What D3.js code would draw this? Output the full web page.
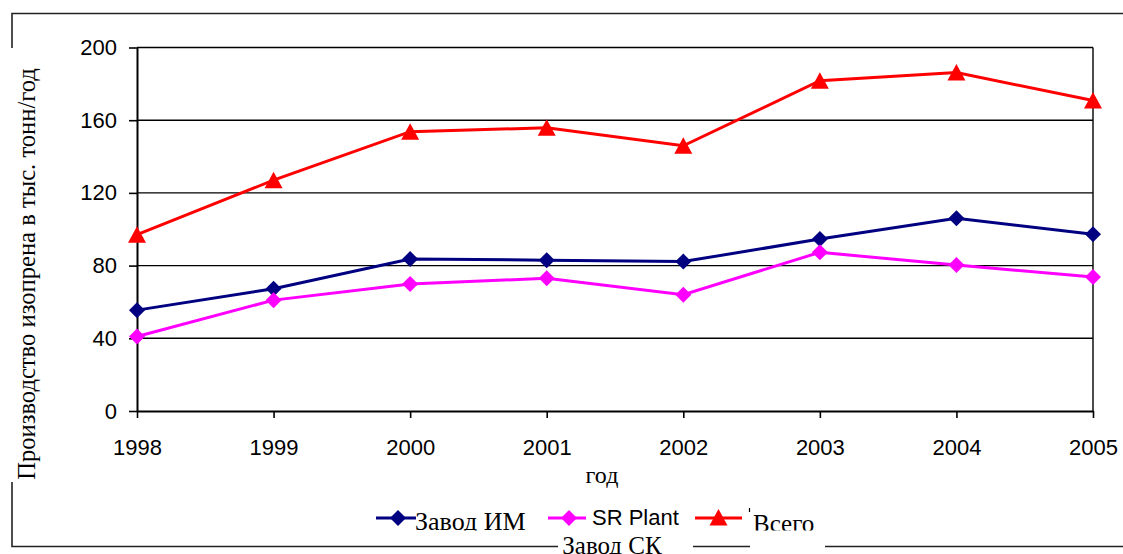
<!DOCTYPE html>
<html>
<head>
<meta charset="utf-8">
<script src="https://cdn.jsdelivr.net/npm/d3@7/dist/d3.min.js"></script>
<style>
  html, body { margin: 0; padding: 0; background: #fff; }
  svg { display: block; }
</style>
</head>
<body>
<svg id="chart" width="1123" height="554"></svg>
<script>
// Isoprene output, thousand tonnes per year
const years = [1998, 1999, 2000, 2001, 2002, 2003, 2004, 2005];
const plantIM = [55.5, 67.3, 83.6, 83.0, 82.2, 94.6, 106.0, 97.2];
const plantSR = [41.0, 61.0, 69.9, 73.0, 64.0, 87.3, 80.3, 73.7];
const total   = [97.0, 127.0, 153.7, 155.8, 145.9, 181.7, 186.2, 170.8];
const yTicks  = [0, 40, 80, 120, 160, 200];

const seriesNames = ["Завод ИМ", "SR Plant", "Всего"];

const svg = d3.select("#chart");
const margin = { left: 137, right: 1093, top: 47.5, bottom: 411 };

const x = d3.scaleLinear().domain([years[0], years[years.length - 1]]).range([margin.left, margin.right]);
const y = d3.scaleLinear().domain([0, 200]).range([margin.bottom, margin.top]);

// outer frame (broken where titles sit on it)
const frame = svg.append("g").attr("stroke", "#222").attr("stroke-width", 1.6).attr("fill", "none");
frame.append("path").attr("d", "M12,48 V13.5 H1123");
frame.append("path").attr("d", "M12,482 V546.5 H558");
frame.append("path").attr("d", "M693,546.5 H750");
frame.append("path").attr("d", "M825,546.5 H1123");

// horizontal gridlines
svg.append("g")
  .selectAll("line")
  .data(yTicks.filter(d => d > 0))
  .join("line")
  .attr("x1", margin.left).attr("x2", margin.right)
  .attr("y1", d => y(d)).attr("y2", d => y(d))
  .attr("stroke", "#000").attr("stroke-width", 1.4);

// right border of the plot area
svg.append("line")
  .attr("x1", margin.right).attr("x2", margin.right)
  .attr("y1", margin.top).attr("y2", margin.bottom)
  .attr("stroke", "#000").attr("stroke-width", 1.4);

// axes
const xAxis = svg.append("g")
  .attr("transform", `translate(0,${margin.bottom})`)
  .call(d3.axisBottom(x).tickValues(years).tickFormat(d3.format("d")).tickSize(7).tickSizeOuter(0).tickPadding(21));
const yAxis = svg.append("g")
  .attr("transform", `translate(${margin.left},0)`)
  .call(d3.axisLeft(y).tickValues(yTicks).tickSize(8).tickSizeOuter(0).tickPadding(12));

[xAxis, yAxis].forEach(g => {
  g.selectAll("path.domain").attr("stroke", "#000").attr("stroke-width", 2);
  g.selectAll(".tick line").attr("stroke", "#000").attr("stroke-width", 1.6);
  g.selectAll("text")
    .attr("fill", "#000")
    .style("font-family", "'Liberation Sans', Arial, sans-serif")
    .style("font-size", "22px");
});
xAxis.selectAll("text").attr("dy", "0.71em");

// series
const series = [
  { name: seriesNames[0], values: plantIM, color: "#000080", shape: "diamond" },
  { name: seriesNames[1], values: plantSR, color: "#FF00FF", shape: "diamond" },
  { name: seriesNames[2], values: total,   color: "#FF0000", shape: "triangle" }
];

const markerPath = shape => shape === "diamond"
  ? "M0,-8 L8,0 L0,8 L-8,0 Z"
  : "M0,-9 L9,7.5 L-9,7.5 Z";

const line = d3.line().x((d, i) => x(years[i])).y(d => y(d));

series.forEach(s => {
  svg.append("path")
    .datum(s.values)
    .attr("d", line)
    .attr("fill", "none")
    .attr("stroke", s.color)
    .attr("stroke-width", 3);
  svg.append("g")
    .selectAll("path")
    .data(s.values)
    .join("path")
    .attr("transform", (d, i) => `translate(${x(years[i])},${y(d) + (s.shape === "triangle" ? 0.5 : 0)})`)
    .attr("d", markerPath(s.shape))
    .attr("fill", s.color);
});

// axis titles
svg.append("text")
  .attr("transform", "translate(35,274) rotate(-90)")
  .attr("text-anchor", "middle")
  .style("font-family", "'Liberation Serif', 'Times New Roman', serif")
  .style("font-size", "24.6px")
  .attr("fill", "#000")
  .text("Производство изопрена в тыс. тонн/год");

svg.append("text")
  .attr("x", 602).attr("y", 483)
  .attr("text-anchor", "middle")
  .style("font-family", "'Liberation Serif', 'Times New Roman', serif")
  .style("font-size", "24px")
  .attr("fill", "#000")
  .text("год");

// legend (its text box cuts the lower part of the serif labels)
const clip = svg.append("defs").append("clipPath").attr("id", "legendClip");
clip.append("rect").attr("x", 0).attr("y", 490).attr("width", 1123).attr("height", 40.5);

const legend = svg.append("g");
const legendItems = [
  { s: series[0], x1: 376, x2: 416, font: "'Liberation Serif', 'Times New Roman', serif", size: 26, tx: 415, ty: 530, clip: true },
  { s: series[1], x1: 548, x2: 586, font: "'Liberation Sans', Arial, sans-serif", size: 22, tx: 592, ty: 525, clip: false },
  { s: series[2], x1: 695, x2: 742, font: "'Liberation Serif', 'Times New Roman', serif", size: 25, tx: 753, ty: 532, clip: true }
];
legendItems.forEach(it => {
  const cx = (it.x1 + it.x2) / 2;
  legend.append("line")
    .attr("x1", it.x1).attr("x2", it.x2).attr("y1", 518).attr("y2", 518)
    .attr("stroke", it.s.color).attr("stroke-width", 3);
  legend.append("path")
    .attr("transform", `translate(${cx + (it.s.shape === "diamond" ? 2 : 0)},${518})`)
    .attr("d", markerPath(it.s.shape))
    .attr("fill", it.s.color);
  const t = legend.append("text")
    .attr("x", it.tx).attr("y", it.ty)
    .style("font-family", it.font)
    .style("font-size", it.size + "px")
    .attr("fill", "#000")
    .text(it.s.name);
  if (it.clip) t.attr("clip-path", "url(#legendClip)");
});
// small stray mark before the last legend entry
legend.append("line")
  .attr("x1", 749.5).attr("x2", 749.5).attr("y1", 508).attr("y2", 512)
  .attr("stroke", "#000").attr("stroke-width", 1.2);

// caption sitting on the bottom frame line
svg.append("text")
  .attr("x", 612).attr("y", 554)
  .attr("text-anchor", "middle")
  .style("font-family", "'Liberation Serif', 'Times New Roman', serif")
  .style("font-size", "25px")
  .attr("fill", "#000")
  .text("Завод СК");
</script>
</body>
</html>
